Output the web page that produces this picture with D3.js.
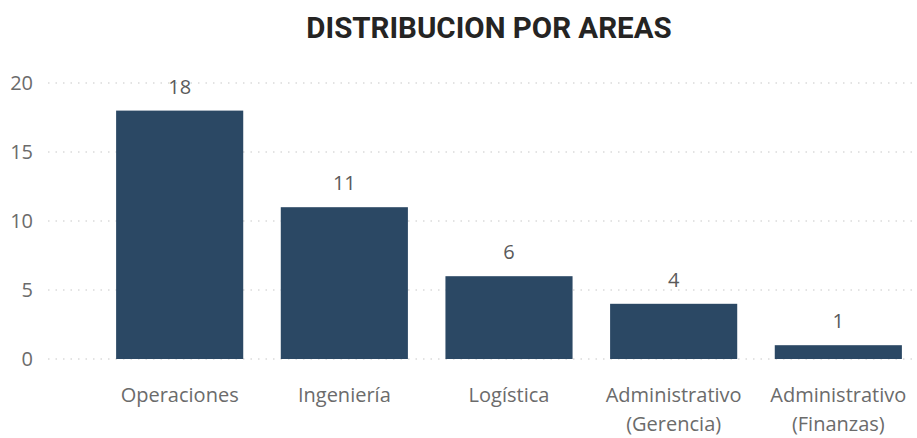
<!DOCTYPE html>
<html lang="es">
<head>
<meta charset="UTF-8">
<title>Distribucion por areas</title>
<script src="https://d3js.org/d3.v7.min.js"></script>
<style>
  body { margin: 0; background: #fff; }
  svg text { font-family: "Open Sans", "Segoe UI", sans-serif; }
</style>
</head>
<body>
<div id="chart"></div>
<script>
// data
const areas = [["Operaciones"], ["Ingeniería"], ["Logística"], ["Administrativo", "(Gerencia)"], ["Administrativo", "(Finanzas)"]];
const empleados = [18, 11, 6, 4, 1];
const yTicks = [0, 5, 10, 15, 20];

const width = 917, height = 438;
const svg = d3.select("#chart").append("svg")
    .attr("width", width)
    .attr("height", height);

// title
svg.append("text")
    .attr("x", 489)
    .attr("y", 38)
    .attr("text-anchor", "middle")
    .style("font-family", "Roboto, sans-serif")
    .style("font-weight", "bold")
    .style("font-size", "29.5px")
    .style("fill", "#252423")
    .text("DISTRIBUCION POR AREAS");

const x = d3.scaleBand()
    .domain(d3.range(areas.length))
    .range([98, 920])
    .paddingInner(0.228)
    .paddingOuter(0.11);

const y = d3.scaleLinear()
    .domain([0, 20])
    .range([359, 83]);

// grid
svg.append("g")
    .selectAll("line")
    .data(yTicks)
    .join("line")
    .attr("x1", 48)
    .attr("x2", width)
    .attr("y1", d => y(d))
    .attr("y2", d => y(d))
    .attr("stroke", "#c8c8c8")
    .attr("stroke-width", 1.2)
    .attr("stroke-dasharray", "1.5,6");

// y labels
svg.append("g")
    .selectAll("text")
    .data(yTicks)
    .join("text")
    .attr("x", 33)
    .attr("y", d => y(d) + 7)
    .attr("text-anchor", "end")
    .style("font-size", "20px")
    .style("fill", "#6b6b6b")
    .text(d => d);

// bars
svg.append("g")
    .selectAll("rect")
    .data(empleados)
    .join("rect")
    .attr("x", (d, i) => x(i))
    .attr("y", d => y(d))
    .attr("width", x.bandwidth())
    .attr("height", d => y(0) - y(d))
    .attr("fill", "#2b4864");

// value labels
svg.append("g")
    .selectAll("text")
    .data(empleados)
    .join("text")
    .attr("x", (d, i) => x(i) + x.bandwidth() / 2)
    .attr("y", d => y(d) - 17)
    .attr("text-anchor", "middle")
    .style("font-size", "20px")
    .style("fill", "#5a5a5a")
    .text(d => d);

// x labels
const xl = svg.append("g")
    .selectAll("text")
    .data(areas)
    .join("text")
    .attr("x", (d, i) => x(i) + x.bandwidth() / 2)
    .attr("y", 402)
    .attr("text-anchor", "middle")
    .style("font-size", "20px")
    .style("fill", "#6b6b6b");

xl.selectAll("tspan")
    .data(d => d)
    .join("tspan")
    .attr("x", function () { return this.parentNode.getAttribute("x"); })
    .attr("dy", (d, i) => i === 0 ? 0 : 29)
    .text(d => d);
</script>
</body>
</html>
